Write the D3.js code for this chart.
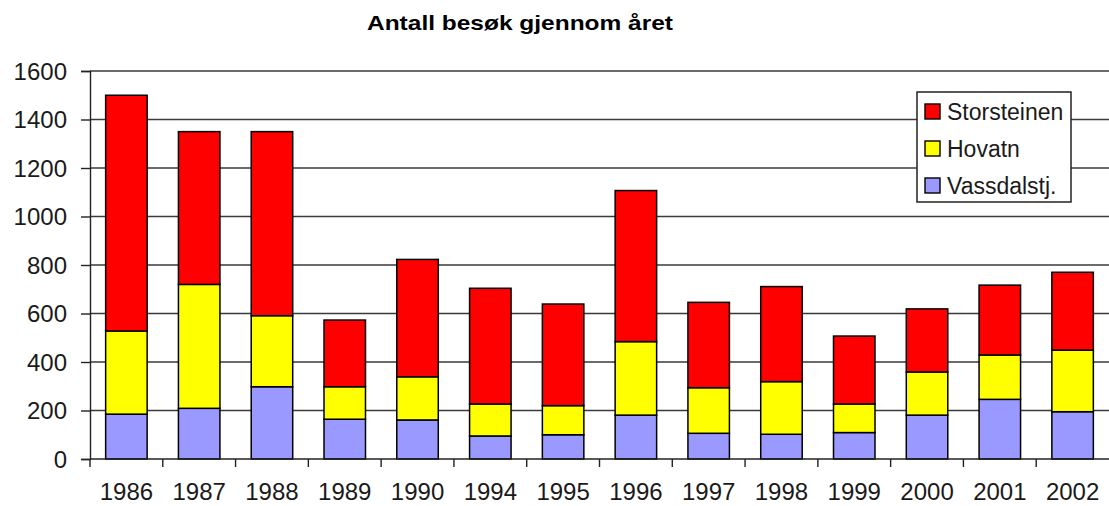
<!DOCTYPE html>
<html>
<head>
<meta charset="utf-8">
<script src="https://cdn.jsdelivr.net/npm/d3@7/dist/d3.min.js"></script>
<style>
  html, body { margin: 0; padding: 0; background: #fff; }
  svg { display: block; }
</style>
</head>
<body>
<svg id="chart" width="1109" height="506"></svg>
<script>
const title = "Antall besøk gjennom året";
const years = ["1986","1987","1988","1989","1990","1994","1995","1996","1997","1998","1999","2000","2001","2002"];
const vassdalstj  = [185, 209, 298, 164, 161, 95, 100, 181, 106, 102, 109, 181, 246, 195];
const hovatn      = [343, 511, 293, 134, 178, 132, 120, 303, 188, 217, 118, 178, 183, 254];
const storsteinen = [972, 630, 759, 275, 484, 477, 419, 623, 352, 392, 280, 260, 288, 321];
const yTicks = [0, 200, 400, 600, 800, 1000, 1200, 1400, 1600];
const seriesNames = ["Vassdalstj.", "Hovatn", "Storsteinen"];
const seriesColors = ["#9999FF", "#FFFF00", "#FF0000"];

(function () {
const svg = d3.select("#chart");
const plotLeft = 90, plotRight = 1109, plotTop = 71, plotBottom = 459;

const rows = years.map((yr, i) => ({
  year: yr,
  "Vassdalstj.": vassdalstj[i],
  "Hovatn": hovatn[i],
  "Storsteinen": storsteinen[i]
}));
const stacked = d3.stack().keys(seriesNames)(rows);

const xBand = d3.scaleBand().domain(years).range([plotLeft, plotRight]).padding(0);
const xBar = d3.scaleBand().domain(years).range([plotLeft, plotRight]).paddingInner(0.43).paddingOuter(0.215);
const y = d3.scaleLinear().domain([0, 1600]).range([plotBottom, plotTop]);

// gridlines
svg.append("g").selectAll("line").data(yTicks.filter(t => t > 0)).join("line")
  .attr("x1", plotLeft).attr("x2", plotRight)
  .attr("y1", d => y(d)).attr("y2", d => y(d))
  .attr("stroke", "#3a3a3a").attr("stroke-width", 1.3);

// y axis
const yAxis = svg.append("g").attr("transform", `translate(${plotLeft},0)`)
  .call(d3.axisLeft(y).tickValues(yTicks).tickSize(9).tickPadding(14).tickFormat(d3.format("d")));
yAxis.select(".domain").attr("stroke", "#222").attr("stroke-width", 1.4);
yAxis.selectAll(".tick line").attr("stroke", "#222").attr("stroke-width", 1.4);
yAxis.selectAll("text").attr("font-family", "Liberation Sans, Arial, sans-serif")
  .attr("font-size", 24).attr("fill", "#1a1a1a").attr("dy", "0.35em");

// bars
svg.append("g").selectAll("g").data(stacked).join("g")
  .attr("fill", (d, i) => seriesColors[i])
  .selectAll("rect").data(d => d).join("rect")
  .attr("x", d => xBar(d.data.year))
  .attr("width", xBar.bandwidth())
  .attr("y", d => y(d[1]))
  .attr("height", d => y(d[0]) - y(d[1]))
  .attr("stroke", "#000").attr("stroke-width", 1.5);

// x axis
const xg = svg.append("g").attr("transform", `translate(0,${plotBottom})`);
xg.append("line").attr("x1", plotLeft).attr("x2", plotRight).attr("y1", 0).attr("y2", 0)
  .attr("stroke", "#222").attr("stroke-width", 1.4);
xg.selectAll("line.tk").data(years).join("line").attr("class", "tk")
  .attr("x1", d => xBand(d)).attr("x2", d => xBand(d))
  .attr("y1", 0).attr("y2", 8).attr("stroke", "#222").attr("stroke-width", 1.4);
const xAxis = svg.append("g").attr("transform", `translate(0,${plotBottom})`)
  .call(d3.axisBottom(xBand).tickSize(0).tickPadding(24));
xAxis.select(".domain").remove();
xAxis.selectAll("text").attr("font-family", "Liberation Sans, Arial, sans-serif")
  .attr("font-size", 24).attr("fill", "#1a1a1a");

// title
svg.append("text").attr("x", 520).attr("y", 30).attr("text-anchor", "middle")
  .attr("font-family", "Liberation Sans, Arial, sans-serif").attr("font-weight", "bold")
  .attr("font-size", 21).attr("textLength", 306).attr("lengthAdjust", "spacingAndGlyphs")
  .attr("fill", "#000").text(title);

// legend
const lg = svg.append("g");
lg.append("rect").attr("x", 917).attr("y", 92).attr("width", 154).attr("height", 110)
  .attr("fill", "#fff").attr("stroke", "#222").attr("stroke-width", 1.5);
const legendOrder = [2, 1, 0];
legendOrder.forEach((si, k) => {
  const cy = 111.5 + k * 37;
  lg.append("rect").attr("x", 925).attr("y", cy - 7.5).attr("width", 15).attr("height", 15)
    .attr("fill", seriesColors[si]).attr("stroke", "#000").attr("stroke-width", 1.4);
  lg.append("text").attr("x", 947).attr("y", cy).attr("dy", "0.36em")
    .attr("font-family", "Liberation Sans, Arial, sans-serif").attr("font-size", 23)
    .attr("fill", "#1a1a1a").text(seriesNames[si]);
});
})();
</script>
</body>
</html>
